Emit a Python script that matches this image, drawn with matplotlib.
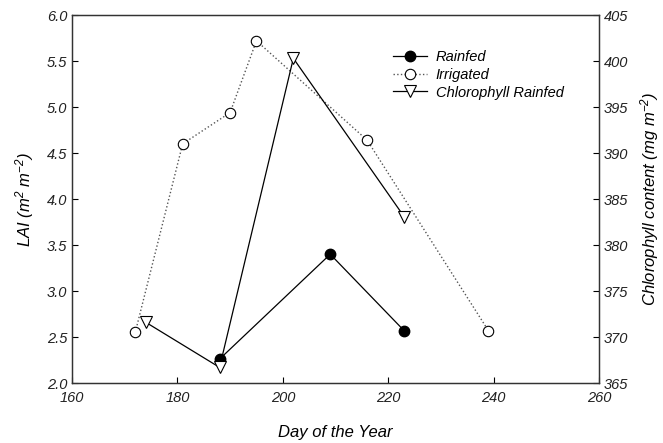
import matplotlib
matplotlib.use("Agg")
import matplotlib.pyplot as plt

plt.rcParams['font.family'] = 'Liberation Sans'
plt.rcParams['font.style'] = 'italic'
plt.rcParams['mathtext.fontset'] = 'custom'
plt.rcParams['mathtext.rm'] = 'Liberation Sans:italic'
plt.rcParams['mathtext.it'] = 'Liberation Sans:italic'

# LAI data (left axis)
rainfed_day = [188, 209, 223]
rainfed_lai = [2.26, 3.40, 2.57]
irrigated_day = [172, 181, 190, 195, 216, 239]
irrigated_lai = [2.55, 4.60, 4.94, 5.72, 4.64, 2.57]

# chlorophyll data (right axis)
chl_day = [174, 188, 202, 223]
chl_val = [371.6, 366.7, 400.3, 383.1]

fig = plt.figure(figsize=(6.63, 4.43), dpi=100)
ax = fig.add_axes([0.1086, 0.1354, 0.7949, 0.8306])
ax2 = ax.twinx()

l1, = ax.plot(rainfed_day, rainfed_lai, '-', color='black', lw=0.9,
              marker='o', ms=7.5, mfc='black', mec='black', label='Rainfed')
l2, = ax.plot(irrigated_day, irrigated_lai, ':', color='#555555', lw=1.0,
              marker='o', ms=7.5, mfc='white', mec='black', mew=0.8, label='Irrigated')
l3, = ax2.plot(chl_day, chl_val, '-', color='black', lw=0.9,
               marker='v', ms=8, mfc='white', mec='black', mew=0.8, label='Chlorophyll Rainfed')

ax.set_xlim(160, 260)
ax.set_ylim(2.0, 6.0)
ax2.set_ylim(365, 405)
ax.set_xticks([160, 180, 200, 220, 240, 260])
ax.set_yticks([2.0, 2.5, 3.0, 3.5, 4.0, 4.5, 5.0, 5.5, 6.0])
ax2.set_yticks(range(365, 406, 5))
ax.yaxis.set_major_formatter(matplotlib.ticker.FormatStrFormatter('%.1f'))

for a in (ax, ax2):
    a.tick_params(direction='in', labelsize=10.5, length=4, width=0.8,
                  labelcolor='#222222')
    for s in a.spines.values():
        s.set_linewidth(0.9)
        s.set_color('#333333')
ax.tick_params(axis='x', pad=6)

ax.set_xlabel('Day of the Year', fontsize=12, labelpad=14)
ax.set_ylabel('LAI (m$^2$ m$^{-2}$)', fontsize=12, labelpad=8)
ax2.set_ylabel('Chlorophyll content (mg m$^{-2}$)', fontsize=12, labelpad=7)

ax.legend(handles=[l1, l2, l3], loc='upper left', bbox_to_anchor=(0.585, 0.94),
          frameon=False, fontsize=10.5, handlelength=2.3, handletextpad=0.6,
          labelspacing=0.25)

fig.savefig('out.png', dpi=100)
